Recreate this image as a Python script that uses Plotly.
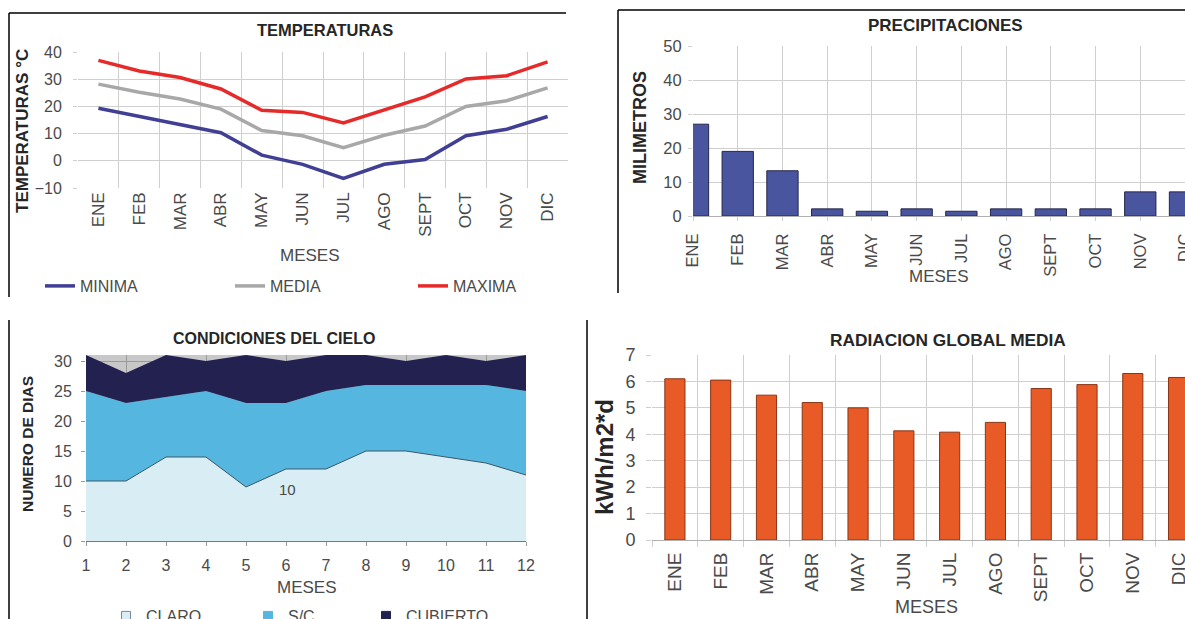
import plotly.graph_objects as go

W, H = 1185, 619

meses = ["ENE", "FEB", "MAR", "ABR", "MAY", "JUN", "JUL", "AGO", "SEPT", "OCT", "NOV", "DIC"]
meses_num = [1, 2, 3, 4, 5, 6, 7, 8, 9, 10, 11, 12]

temp_minima = [19.3, 16.4, 13.4, 10.3, 2.1, -1.3, -6.5, -1.3, 0.5, 9.2, 11.6, 16.3]
temp_media = [28.2, 25.2, 22.7, 19.0, 11.1, 9.2, 4.8, 9.4, 12.8, 20.0, 22.1, 26.8]
temp_maxima = [36.9, 33.0, 30.6, 26.4, 18.6, 17.8, 13.9, 18.8, 23.5, 30.1, 31.3, 36.4]

precipitaciones = [27.0, 19.0, 13.3, 2.1, 1.4, 2.1, 1.4, 2.1, 2.1, 2.1, 7.1, 7.1]

cielo_claro = [10, 10, 14, 14, 9, 12, 12, 15, 15, 14, 13, 11]
cielo_sc = [15, 13, 10, 11, 14, 11, 13, 11, 11, 12, 13, 14]
cielo_cubierto = [6, 5, 7, 5, 8, 7, 6, 5, 4, 5, 4, 6]

radiacion = [6.1, 6.05, 5.48, 5.2, 5.0, 4.13, 4.08, 4.45, 5.73, 5.88, 6.3, 6.15]

FONT = "Liberation Sans, Arial, sans-serif"
TICK = "#4a4a4a"
TITLE = "#262626"
GRID = "#cfcfcf"


def dx(a, b):
    return [a / W, b / W]


def dy(top, bottom):
    return [1 - bottom / H, 1 - top / H]


def px(x):
    return x / W


def py(y):
    return 1 - y / H


def tf(size):
    return dict(family=FONT, size=size, color=TICK)


fig = go.Figure()

# --- Temperaturas ---
for name, vals, col, leg in [("MINIMA", temp_minima, "#403f94", "legend"),
                             ("MEDIA", temp_media, "#a8a8a8", "legend2"),
                             ("MAXIMA", temp_maxima, "#e62a2a", "legend3")]:
    fig.add_trace(go.Scatter(x=meses, y=vals, mode="lines", name=name,
                             line=dict(color=col, width=3.5),
                             xaxis="x", yaxis="y", legend=leg))

# --- Precipitaciones ---
fig.add_trace(go.Bar(x=meses, y=precipitaciones, width=0.7, showlegend=False,
                     marker=dict(color="#4a559f", line=dict(color="#26264a", width=1)),
                     xaxis="x2", yaxis="y2"))

# --- Condiciones del cielo ---
fig.add_trace(go.Scatter(x=meses_num, y=cielo_claro, stackgroup="cielo", name="CLARO",
                         mode="lines", line=dict(color="#3f5868", width=1),
                         fillcolor="#d9edf4", showlegend=False, xaxis="x3", yaxis="y3"))
fig.add_trace(go.Scatter(x=meses_num, y=cielo_sc, stackgroup="cielo", name="S/C",
                         mode="lines", line=dict(color="#55b7e0", width=0),
                         fillcolor="#55b7e0", showlegend=False, xaxis="x3", yaxis="y3"))
fig.add_trace(go.Scatter(x=meses_num, y=cielo_cubierto, stackgroup="cielo", name="CUBIERTO",
                         mode="lines", line=dict(color="#232150", width=0),
                         fillcolor="#232150", showlegend=False, xaxis="x3", yaxis="y3"))
for name, col, lcol, leg in [("CLARO", "#d9edf4", "#7a8a96", "legend4"),
                             ("S/C", "#55b7e0", "#55b7e0", "legend5"),
                             ("CUBIERTO", "#232150", "#232150", "legend6")]:
    fig.add_trace(go.Scatter(x=[None], y=[None], mode="markers", name=name,
                             marker=dict(symbol="square", size=9, color=col,
                                         line=dict(color=lcol, width=1)),
                             xaxis="x3", yaxis="y3", legend=leg))

# --- Radiación ---
fig.add_trace(go.Bar(x=meses, y=radiacion, width=0.44, showlegend=False,
                     marker=dict(color="#e85a26", line=dict(color="#8a3414", width=1)),
                     xaxis="x4", yaxis="y4"))

fig.update_layout(
    width=W, height=H,
    margin=dict(l=0, r=0, t=0, b=0, pad=0, autoexpand=False),
    paper_bgcolor="white", plot_bgcolor="white",
    font=dict(family=FONT, color=TICK),
    xaxis=dict(domain=dx(78, 568), anchor="y", type="category", tickson="boundaries",
               range=[-0.5, 11.5], showgrid=True, gridcolor=GRID, tickangle=-90,
               ticks="", tickfont=tf(17), showline=False, zeroline=False),
    yaxis=dict(domain=dy(52, 188), anchor="x", range=[-10, 40], dtick=10,
               showgrid=True, gridcolor=GRID, ticks="outside", ticklen=4, tickcolor=GRID,
               tickfont=tf(16), ticklabelstandoff=8, zeroline=False),
    xaxis2=dict(domain=dx(693, 1185), anchor="y2", type="category",
                range=[0, 11], showgrid=True, gridcolor=GRID, tickangle=-90,
                ticks="outside", ticklen=4, tickcolor=GRID, tickfont=tf(16.5),
                ticklabelstandoff=6, showline=True, linecolor="#b0b0b0"),
    yaxis2=dict(domain=dy(46, 216), anchor="x2", range=[0, 50], dtick=10,
                showgrid=True, gridcolor=GRID, ticks="outside", ticklen=4, tickcolor=GRID,
                tickfont=tf(16.5), ticklabelstandoff=3, zeroline=False),
    xaxis3=dict(domain=dx(86, 526), anchor="y3", range=[1, 12], dtick=1,
                showgrid=True, gridcolor="#9a9a9a", ticks="outside", ticklen=4,
                tickcolor="#9a9a9a", tickfont=tf(16), ticklabelstandoff=6, zeroline=False,
                showline=True, linecolor="#6a7a86"),
    yaxis3=dict(domain=dy(355, 541), anchor="x3", range=[0, 31], tickvals=[0, 5, 10, 15, 20, 25, 30],
                showgrid=True, gridcolor="#9a9a9a", ticks="outside", ticklen=4,
                tickcolor="#9a9a9a", tickfont=tf(16), ticklabelstandoff=6, zeroline=False),
    xaxis4=dict(domain=dx(652, 1185), anchor="y4", type="category", tickson="boundaries",
                range=[-0.5, 11.14], showgrid=True, gridcolor=GRID, tickangle=-90,
                ticks="outside", ticklen=6, tickcolor=GRID,
                tickfont=tf(19), ticklabelstandoff=4,
                showline=True, linecolor="#b0b0b0"),
    yaxis4=dict(domain=dy(355, 540), anchor="x4", range=[0, 7], dtick=1,
                showgrid=True, gridcolor=GRID, ticks="outside", ticklen=5, tickcolor=GRID,
                tickfont=tf(18), ticklabelstandoff=7, zeroline=False),
)

# legends
leg_common = dict(orientation="h", yanchor="middle", xanchor="left", bgcolor="rgba(0,0,0,0)",
                  font=tf(16), itemwidth=30)
fig.update_layout(
    legend=dict(x=px(40), y=py(286), **leg_common),
    legend2=dict(x=px(230), y=py(286), **leg_common),
    legend3=dict(x=px(413), y=py(286), **leg_common),
    legend4=dict(x=px(106), y=py(616), **leg_common),
    legend5=dict(x=px(248), y=py(616), **leg_common),
    legend6=dict(x=px(366), y=py(616), **leg_common),
)

# grey background of sky chart
shapes = [dict(type="rect", xref="x3 domain", yref="y3 domain", x0=0, x1=1, y0=0, y1=1,
               fillcolor="#c8c8c8", line=dict(width=0), layer="below")]
# panel borders
for x0, y0, x1, y1 in [(9, 13, 566, 13), (9, 13, 9, 297), (618, 10, 1185, 10),
                       (618, 10, 618, 293), (9, 320, 9, 619), (587, 320, 587, 619)]:
    shapes.append(dict(type="line", xref="paper", yref="paper",
                       x0=px(x0), x1=px(x1), y0=py(y0), y1=py(y1),
                       line=dict(color="black", width=1.5)))
fig.update_layout(shapes=shapes)

ann = []


def text(x, y, t, size, bold=False, angle=0, color=TICK):
    ann.append(dict(x=px(x), y=py(y), xref="paper", yref="paper", text=f"<b>{t}</b>" if bold else t,
                    showarrow=False, textangle=angle, xanchor="center", yanchor="middle",
                    font=dict(family=FONT, size=size, color=color)))


text(325, 30, "TEMPERATURAS", 16.5, True, color=TITLE)
text(945, 26, "PRECIPITACIONES", 17, True, color=TITLE)
text(274, 338, "CONDICIONES DEL CIELO", 16, True, color=TITLE)
text(948, 340, "RADIACION GLOBAL MEDIA", 17.3, True, color=TITLE)

text(22, 131, "TEMPERATURAS °C", 17, True, -90, TITLE)
text(640, 128, "MILIMETROS", 18, True, -90, TITLE)
text(27, 444, "NUMERO DE DIAS", 15.5, True, -90, TITLE)
text(604, 457, "kWh/m2*d", 24, True, -90, TITLE)

text(310, 255, "MESES", 17)
text(939, 277, "MESES", 17)
text(307, 587, "MESES", 17)
text(927, 607, "MESES", 18)

text(287, 489, "10", 15)

fig.update_layout(annotations=ann)

fig.write_html("out.html")
